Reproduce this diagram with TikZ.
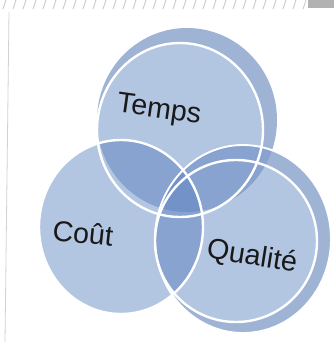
\documentclass[tikz,border=0pt]{standalone}
\usepackage{fontspec}
\setmainfont{Liberation Sans}
\definecolor{face}{HTML}{B2C5E1}
\definecolor{rim}{HTML}{9FB4D5}
\definecolor{lap}{HTML}{88A3CF}
\definecolor{tri}{HTML}{7392C7}
\definecolor{hatch}{HTML}{C8C8C8}
\begin{document}
\begin{tikzpicture}[x=0.75pt,y=-0.75pt,
  lbl/.style={font=\fontsize{21.5}{25}\selectfont, text=black!90, inner sep=0pt},
  edge/.style={draw=white, line width=1.8pt},
  backedge/.style={draw=white, line width=1.4pt}]
\useasboundingbox (0,0) rectangle (334,342);
\fill[white] (0,0) rectangle (334,342);
% background decorations
\foreach \i in {0,...,30} {
  \draw[hatch, line width=0.6pt] ({3+\i*10},9) -- ({6+\i*10},0);
}
\fill[gray!60] (308,0) rectangle (334,8);
\draw[gray!35, line width=0.6pt] (9,12) -- (5,342);
% geometry
\def\TF{(180,130) ellipse [x radius=83, y radius=87]}
\def\CF{(121,227) ellipse [x radius=82, y radius=87]}
\def\QF{(236,241) ellipse [x radius=81, y radius=81]}
\def\TB{(187,120) ellipse [x radius=90, y radius=92]}
\def\CB{(121,227) ellipse [x radius=82, y radius=87]}
\def\QB{(243,239) ellipse [x radius=88, y radius=94]}
% back rims
\fill[rim] \TB;
\fill[rim] \CB;
\fill[rim] \QB;
% front faces
\fill[face] \TF;
\fill[face] \CF;
\fill[face] \QF;
% pairwise overlaps
\begin{scope}\clip \TB; \fill[lap] \CB; \end{scope}
\begin{scope}\clip \TB; \fill[lap] \QB; \end{scope}
\begin{scope}\clip \CB; \fill[lap] \QB; \end{scope}
\begin{scope}\clip \TB; \clip \CB; \fill[tri] \QB; \end{scope}
% white outlines
\draw[backedge] \QB;
\draw[edge] \TF;
\draw[edge] \CF;
\draw[edge] \QF;
% labels
\node[lbl, rotate=-8] (temps) at (159,111) {Temps};
\node[lbl, rotate=-6] (cout) at (83,233) {Coût};
\node[lbl, rotate=-9] (qualite) at (252,257) {Qualité};
\end{tikzpicture}
\end{document}
